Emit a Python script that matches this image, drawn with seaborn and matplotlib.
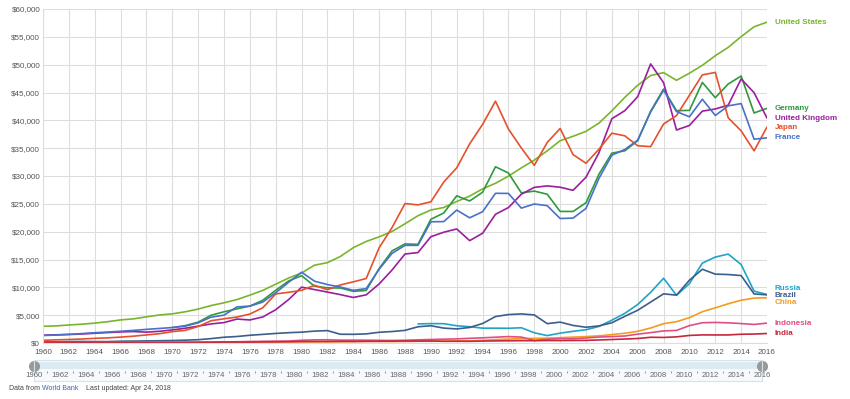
import numpy as np
import matplotlib
matplotlib.use("Agg")
import matplotlib.pyplot as plt
from matplotlib.ticker import FuncFormatter
import seaborn as sns
import pandas as pd

# GDP per capita, current US$ (World Bank), 1960-2016
years = list(range(1960, 2017))

united_states = [3007, 3067, 3244, 3375, 3574, 3828, 4146, 4336, 4696, 5032,
                 5234, 5609, 6094, 6726, 7226, 7801, 8592, 9453, 10565, 11674,
                 12575, 13976, 14434, 15544, 17121, 18237, 19071, 20039, 21417, 22857,
                 23889, 24342, 25419, 26387, 27695, 28691, 29968, 31459, 32854, 34515,
                 36335, 37133, 38023, 39497, 41712, 44115, 46299, 48050, 48570, 47195,
                 48466, 49883, 51603, 53107, 55033, 56803, 57638]
germany = [None] * 10 + [
           2761, 3120, 3741, 4986, 5608, 6130, 6632, 7679, 9473, 11149,
           12092, 10217, 9910, 9875, 9280, 9435, 13371, 16557, 17801, 17716,
           22220, 23357, 26438, 25510, 27079, 31659, 30538, 26964, 27289, 26725,
           23636, 23629, 25197, 30310, 34107, 34520, 36354, 41640, 45612, 41732,
           41786, 46810, 44066, 46531, 47960, 41324, 42161]
united_kingdom = [1398, 1472, 1526, 1613, 1748, 1873, 1986, 2058, 1952, 2100,
                  2348, 2649, 3030, 3426, 3666, 4300, 4139, 4681, 5977, 7804,
                  10032, 9599, 9146, 8691, 8179, 8652, 10611, 13119, 15987, 16240,
                  19095, 19901, 20488, 18389, 19710, 23123, 24326, 26735, 27953, 28224,
                  27982, 27427, 29786, 34173, 40290, 41733, 44252, 50135, 46768, 38262,
                  39080, 41652, 42039, 42724, 47440, 44966, 40412]
japan = [479, 563, 633, 717, 836, 919, 1058, 1228, 1450, 1669,
         2037, 2272, 2967, 3997, 4354, 4659, 5198, 6335, 8821, 9105,
         9463, 10361, 9578, 10425, 10985, 11584, 17112, 20745, 25051, 24813,
         25359, 28925, 31465, 35766, 39269, 43440, 38437, 35022, 31903, 36027,
         38532, 33846, 32289, 34808, 37689, 37218, 35434, 35275, 39339, 40855,
         44508, 48168, 48603, 40454, 38109, 34524, 38794]
france = [1343, 1428, 1553, 1692, 1847, 1967, 2111, 2265, 2450, 2612,
          2779, 3030, 3629, 4643, 5003, 6485, 6621, 7356, 9032, 10911,
          12713, 11105, 10496, 10051, 9462, 9777, 13256, 16104, 17541, 17541,
          21776, 21810, 23881, 22490, 23580, 26890, 26871, 24228, 24974, 24673,
          22364, 22433, 24176, 29568, 33742, 34760, 36443, 41508, 45413, 41575,
          40638, 43791, 40875, 42603, 43008, 36614, 36857]
russia = [None] * 29 + [
          3428, 3485, 3470, 3099, 2929, 2663, 2666, 2644, 2738, 1835, 1331,
          1772, 2100, 2377, 2975, 4102, 5323, 6920, 9101, 11635, 8563,
          10675, 14351, 15435, 15974, 14096, 9313, 8705]
brazil = [210, 207, 250, 280, 255, 256, 318, 346, 373, 407,
          445, 505, 589, 788, 1035, 1167, 1389, 1549, 1717, 1856,
          1947, 2134, 2227, 1570, 1559, 1636, 1926, 2060, 2269, 2916,
          3100, 2677, 2526, 2792, 3500, 4750, 5108, 5226, 5044, 3478,
          3750, 3157, 2829, 3071, 3637, 4790, 5886, 7348, 8831, 8598,
          11286, 13246, 12370, 12300, 12113, 8814, 8650]
china = [90, 76, 70, 74, 85, 98, 104, 96, 91, 100,
         113, 118, 131, 157, 160, 178, 165, 185, 156, 183,
         195, 197, 203, 225, 251, 294, 282, 252, 284, 311,
         318, 333, 366, 377, 473, 610, 709, 782, 829, 873,
         959, 1053, 1149, 1289, 1509, 1753, 2099, 2694, 3468, 3832,
         4550, 5618, 6317, 7051, 7679, 8067, 8123]
indonesia = [None] * 7 + [
             54, 64, 76,
             82, 83, 93, 129, 194, 228, 265, 304, 339, 356,
             491, 566, 578, 508, 515, 511, 474, 450, 492, 559,
             633, 689, 740, 842, 926, 1040, 1155, 1064, 464, 671,
             780, 748, 900, 1066, 1150, 1260, 1590, 1861, 2167, 2262,
             3122, 3643, 3694, 3623, 3492, 3331, 3570]
india = [82, 85, 90, 101, 116, 119, 90, 96, 99, 107,
         112, 118, 122, 143, 163, 158, 161, 186, 206, 224,
         267, 271, 275, 291, 277, 296, 310, 340, 354, 347,
         368, 303, 317, 301, 346, 374, 400, 415, 413, 442,
         443, 452, 471, 546, 628, 714, 807, 1028, 999, 1102,
         1358, 1458, 1444, 1450, 1574, 1606, 1710]

countries = ["United States", "Germany", "United Kingdom", "Japan", "France",
             "Russia", "Brazil", "China", "Indonesia", "India"]
series = [united_states, germany, united_kingdom, japan, france,
          russia, brazil, china, indonesia, india]
colors = ["#79b52c", "#2f9a3c", "#9a1e9e", "#e4512c", "#4a70c9",
          "#20a4c6", "#3b5e8c", "#f39c1f", "#df4f86", "#c5283d"]

rows = []
for name, vals in zip(countries, series):
    for y, v in zip(years, vals):
        rows.append({"year": y, "country": name, "gdp": v})
df = pd.DataFrame(rows).dropna()

sns.set_style("whitegrid", {"grid.color": "#dddddd", "axes.edgecolor": "#dddddd"})
plt.rcParams["font.family"] = ["Liberation Sans", "DejaVu Sans"]

fig = plt.figure(figsize=(8.5, 3.99), dpi=100)
W, H = 850, 399
ax = fig.add_axes([43 / W, 1 - 343 / H, (767 - 43) / W, (343 - 9) / H])

sns.lineplot(data=df, x="year", y="gdp", hue="country", hue_order=countries,
             palette=colors, linewidth=1.2, legend=False, ax=ax)

ax.set_xlim(1960, 2016)
ax.set_ylim(0, 60000)
ax.set_xticks(range(1960, 2017, 2))
ax.set_yticks(range(0, 60001, 5000))
ax.yaxis.set_major_formatter(FuncFormatter(lambda v, p: "${:,.0f}".format(v)))
ax.tick_params(axis="both", labelsize=5.8, colors="#555555", length=0)
ax.tick_params(axis="x", pad=4)
ax.tick_params(axis="y", pad=2)
ax.set_xlabel("")
ax.set_ylabel("")
ax.grid(True, linewidth=0.8)
for s in ["top", "right"]:
    ax.spines[s].set_visible(False)

# end labels, spread apart so they don't overlap
last_vals = [[v for v in vals if v is not None][-1] for vals in series]
min_gap = 1300
pos = list(last_vals)
order = sorted(range(len(pos)), key=lambda i: -pos[i])
for _ in range(300):
    moved = False
    for a, b in zip(order[:-1], order[1:]):
        d = pos[a] - pos[b]
        if d < min_gap - 1:
            shift = (min_gap - d) / 2
            pos[a] += shift
            pos[b] -= shift
            moved = True
    if not moved:
        break
for name, col, yv in zip(countries, colors, pos):
    ax.text(2016.6, yv, name, color=col, fontsize=5.8, fontweight="bold",
            va="center", ha="left", clip_on=False)

# time slider under the chart
sl = fig.add_axes([34 / W, 1 - 381 / H, (762 - 34) / W, (381 - 360) / H])
sl.set_xlim(1960, 2016)
sl.set_ylim(0, 1)
sl.set_facecolor("#f6fafc")
for s in sl.spines.values():
    s.set_color("#d4e4ec")
sl.axhspan(0.55, 0.9, color="#dcebf2", lw=0)
sl.set_xticks([])
sl.set_yticks([])
sl.grid(False)
for yr in range(1960, 2017, 2):
    sl.text(yr, 0.27, str(yr), fontsize=5.6, color="#666666", ha="center", va="center")
sl.vlines(range(1961, 2016, 2), 0.38, 0.5, color="#888888", lw=0.6)
for xh in [1960, 2016]:
    sl.plot([xh], [0.72], marker="o", markersize=7, color="#999999", clip_on=False)

fig.text(9 / W, 1 - 389 / H, "Data from", fontsize=5.0, color="#444444", va="center")
fig.text(42 / W, 1 - 389 / H, "World Bank", fontsize=5.0, color="#3366bb", va="center")
fig.text(86 / W, 1 - 389 / H, "Last updated: Apr 24, 2018", fontsize=5.0,
         color="#444444", va="center")

fig.savefig("out.png", dpi=100)
